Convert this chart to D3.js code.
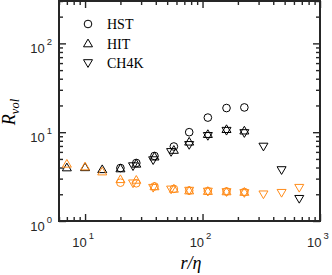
<!DOCTYPE html>
<html lang="en">
<head>
<meta charset="utf-8">
<script src="https://cdn.jsdelivr.net/npm/d3@7"></script>
<style>
body { margin: 0; background: #fff; }
.tick line { stroke: #262626; stroke-width: 1.4; }
.tick text { display: none; }
.lab { font-family: "Liberation Sans", Arial, sans-serif; fill: #262626; }
.serif { font-family: "Liberation Serif", "DejaVu Serif", serif; fill: #000; }
</style>
</head>
<body>
<div id="chart"></div>
<script>
// r/eta positions of each dataset
var rHIT  = [7, 10, 14, 20, 27.3, 39, 57, 77, 111, 160, 227];
var rHST  = [20, 27.3, 39, 57, 77, 111, 160, 227];
var rCH4K = [25.6, 38, 54, 77, 111, 160, 227, 330, 471, 666];

// black series
var hitBlack  = [4.0, 4.02, 3.82, 3.9, 4.4, 5.3, 6.3, 7.8, 9.5, 10.8, 10.4];
var hstBlack  = [3.95, 4.5, 5.4, 6.9, 10.0, 14.6, 18.7, 19.0];
var ch4kBlack = [4.15, 4.85, 6.0, 7.2, 9.1, 10.4, 9.8, 6.9, 3.75, 1.78];

// orange series
var hitOrange  = [4.4, 4.1, 3.6, 2.95, 2.9, 2.45, 2.3, 2.2, 2.17, 2.15, 2.12];
var hstOrange  = [2.7, 2.66, 2.45, 2.3, 2.2, 2.17, 2.15, 2.12];
var ch4kOrange = [2.66, 2.37, 2.27, 2.2, 2.15, 2.12, 2.07, 2.0, 2.08, 2.37];

var legendNames = ["HST", "HIT", "CH4K"];
var xMajor = [10, 100, 1000];
var yMajor = [1, 10, 100];

var w = 332, h = 275;
var svg = d3.select("#chart").append("svg").attr("width", w).attr("height", h);

var x = d3.scaleLog().domain([6, 1000]).range([59, 320]);
var y = d3.scaleLog().domain([1, 300]).range([221, 1]);

function minors(dom) {
    var out = [];
    for (var d = 1; d <= 1000; d *= 10)
        for (var k = 2; k <= 9; k++)
            if (d * k >= dom[0] && d * k <= dom[1]) out.push(d * k);
    return out;
}
var xMinor = minors(x.domain()), yMinor = minors(y.domain());

// ticks, pointing inward on all four sides
function addAxis(axisFn, scale, vals, len, tr) {
    svg.append("g").attr("transform", tr)
        .call(axisFn(scale).tickValues(vals).tickSize(-len).tickFormat(""))
        .select(".domain").remove();
}
addAxis(d3.axisBottom, x, xMajor, 7, "translate(0,221)");
addAxis(d3.axisBottom, x, xMinor, 4, "translate(0,221)");
addAxis(d3.axisTop, x, xMajor, 7, "translate(0,1)");
addAxis(d3.axisTop, x, xMinor, 4, "translate(0,1)");
addAxis(d3.axisLeft, y, yMajor, 7, "translate(59,0)");
addAxis(d3.axisLeft, y, yMinor, 4, "translate(59,0)");
addAxis(d3.axisRight, y, yMajor, 7, "translate(320,0)");
addAxis(d3.axisRight, y, yMinor, 4, "translate(320,0)");

svg.append("rect").attr("x", 59).attr("y", 1).attr("width", 261).attr("height", 220)
    .attr("fill", "none").attr("stroke", "#262626").attr("stroke-width", 2);

// tick labels 10^n
xMajor.forEach(function(v) {
    var t = svg.append("text").attr("class", "lab").attr("text-anchor", "middle")
        .attr("x", x(v) - 2).attr("y", 247).style("font-size", "13px");
    t.append("tspan").text("10");
    t.append("tspan").attr("dx", 2).attr("dy", -8).style("font-size", "9.5px").text(Math.round(Math.log10(v)));
});
yMajor.forEach(function(v) {
    var t = svg.append("text").attr("class", "lab").attr("text-anchor", "end")
        .attr("x", 52).attr("y", y(v) + 10).style("font-size", "13px");
    t.append("tspan").text("10");
    t.append("tspan").attr("dx", 2).attr("dy", -8).style("font-size", "9.5px").text(Math.round(Math.log10(v)));
});

// axis titles
var yl = svg.append("text").attr("class", "serif")
    .attr("transform", "translate(15,112) rotate(-90)").attr("text-anchor", "middle")
    .style("font-style", "italic").style("font-size", "18px");
yl.append("tspan").text("R");
yl.append("tspan").attr("dy", 4).style("font-size", "12.5px").text("vol");

svg.append("text").attr("class", "serif").attr("x", 191).attr("y", 269)
    .attr("text-anchor", "middle").style("font-style", "italic").style("font-size", "18px")
    .text("r/\u03b7");

// marker shapes
var shapes = {
    circle: d3.symbol().type(d3.symbolCircle).size(46)(),
    up: "M0,-4.4L4.5,3.3L-4.5,3.3Z",
    down: "M0,4.4L4.5,-3.3L-4.5,-3.3Z"
};

var black = "#000000", orange = "#ff8c1a";
var sets = [
    {r: rHST, v: hstBlack, s: "circle", c: black},
    {r: rHIT, v: hitBlack, s: "up", c: black},
    {r: rCH4K, v: ch4kBlack, s: "down", c: black},
    {r: rHST, v: hstOrange, s: "circle", c: orange},
    {r: rHIT, v: hitOrange, s: "up", c: orange},
    {r: rCH4K, v: ch4kOrange, s: "down", c: orange}
];

sets.forEach(function(set) {
    svg.append("g").selectAll("path")
        .data(set.r.map(function(r, i) { return [r, set.v[i]]; }))
        .enter().append("path")
        .attr("d", shapes[set.s])
        .attr("transform", function(d) { return "translate(" + x(d[0]) + "," + y(d[1]) + ")"; })
        .attr("fill", "none").attr("stroke", set.c).attr("stroke-width", 1);
});

// legend
var lg = svg.append("g");
["circle", "up", "down"].forEach(function(s, i) {
    var yy = 24 + i * 19.5;
    lg.append("path").attr("d", shapes[s]).attr("transform", "translate(88," + yy + ")")
        .attr("fill", "none").attr("stroke", black).attr("stroke-width", 1);
    lg.append("text").attr("class", "serif").attr("x", 107).attr("y", yy + 5)
        .style("font-size", "14px").text(legendNames[i]);
});
</script>
</body>
</html>
